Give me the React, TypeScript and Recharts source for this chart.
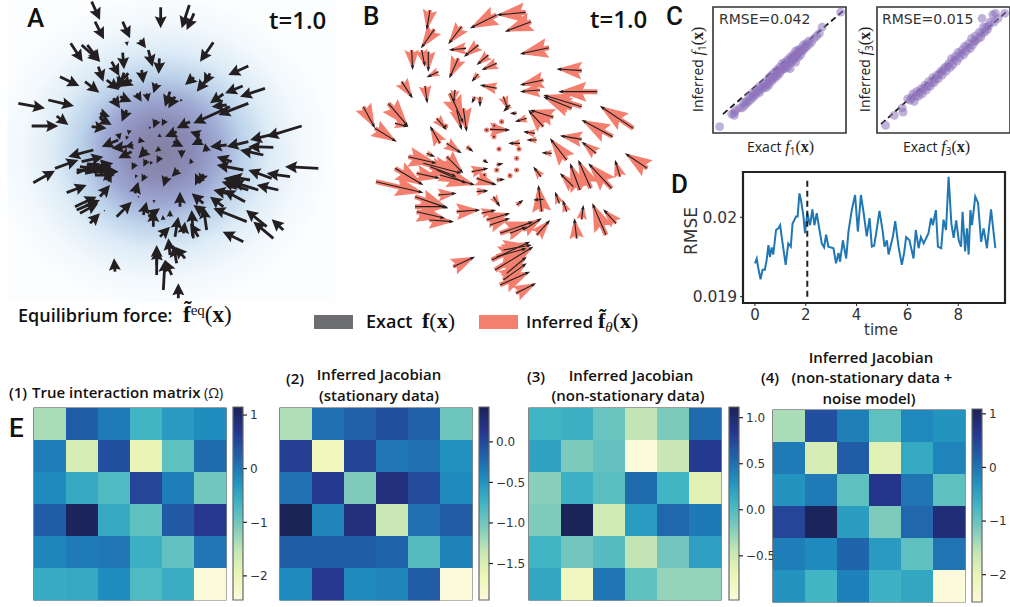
import React from 'react';
import { ScatterChart, Scatter, LineChart, Line, BarChart, Bar, XAxis, YAxis, ReferenceArea, ReferenceLine } from 'recharts';

// Force field A: tail x, tail y, tip x, tip y
const arrowsA: number[][] = [
  [275,5,300,60],[285,65,312,118],[368,65,390,115],[482,22,482,85],[568,15,545,85],[582,40,560,90],[640,127,600,185],
  [212,130,248,185],[245,135,300,185],[262,135,300,185],[380,125,382,138],[420,120,438,145],[445,150,458,200],[478,175,476,222],
  [745,198,685,225],[368,158,372,208],[335,185,358,228],[295,200,310,245],[180,230,238,258],[255,245,298,278],[320,240,358,270],
  [385,220,345,262],[372,218,355,268],[395,240,362,260],[425,210,430,250],[470,250,460,280],[582,232,555,255],[630,220,612,255],
  [622,235,590,275],[728,258,675,280],[795,265,720,290],[670,282,630,310],[745,310,655,345],[690,320,580,370],[55,310,135,325],
  [145,300,222,318],[95,378,175,378],[170,348,205,375],[340,295,360,325],[360,290,395,305],[410,280,425,305],[440,280,445,305],
  [510,275,495,320],[525,290,505,325],[545,298,540,305],[680,315,635,320],[380,330,365,365],[300,340,330,350],[300,355,335,375],
  [275,380,320,385],[905,378,800,410],[830,400,750,420],[745,425,680,440],[820,442,745,440],[790,465,720,450],[680,435,630,440],
  [955,505,855,500],[870,530,800,520],[815,535,745,510],[730,510,650,495],[695,485,650,470],[620,455,615,430],[600,405,570,395],
  [605,420,575,435],[570,365,530,385],[530,395,495,410],[520,425,550,440],[545,450,545,475],[480,445,465,455],[440,450,415,475],
  [355,420,305,440],[380,440,335,445],[400,435,375,440],[395,455,355,475],[280,450,205,470],[165,505,235,480],[100,548,165,512],
  [245,485,310,470],[230,520,300,490],[230,510,355,515],[250,505,340,490],[270,515,355,515],[325,545,335,525],[200,578,260,555],
  [300,590,330,555],[225,620,290,590],[230,630,300,600],[240,640,295,610],[270,670,300,640],[350,650,395,605],[405,580,415,545],
  [430,645,440,605],[460,680,460,630],[445,650,480,625],[490,660,488,645],[510,650,510,630],[480,710,510,680],[525,710,535,650],
  [550,700,555,665],[540,620,540,575],[580,715,575,630],[595,710,570,670],[620,690,610,620],[610,610,575,580],[615,640,580,615],
  [670,620,630,590],[700,585,640,570],[735,605,670,570],[740,665,640,625],[800,680,738,630],[850,690,815,658],[820,715,760,665],
  [730,725,668,695],[835,570,770,555],[775,570,695,545],[745,570,665,545],[750,540,690,530],[600,550,585,520],[610,522,600,550],
  [470,825,470,735],[510,765,505,715],[530,790,520,735],[555,775,525,740],[490,870,495,780],[515,825,495,780],[535,895,535,850],
  [345,815,342,775],[388,390,385,405],[355,400,360,420],[382,408,378,420],[470,360,460,385],[495,360,485,378],[450,380,448,388],
  [475,405,485,412],[440,480,430,500],[455,485,450,495],[480,470,470,490],[405,490,395,510],[410,525,405,535],[435,525,425,545],
  [500,530,490,560],[535,510,515,530],[575,490,570,475],[415,420,435,425],[462,600,462,610],[415,588,416,594],[313,630,314,635],
  [260,495,335,500],[255,520,330,505],[240,500,320,510],[285,525,345,525],[470,795,472,745],[720,545,670,535],[710,555,680,560],
];

// Force field B, black exact arrows, same reading
const arrowsB: number[][] = [
  [557,37,470,45],[470,45,390,85],[573,65,495,95],[627,143,540,162],[725,212,650,207],[270,30,260,90],[283,88,243,145],
  [365,80,325,132],[378,145,327,150],[415,135,372,170],[215,150,218,210],[245,150,255,200],[265,155,265,215],[295,215,260,232],
  [355,175,328,235],[445,165,410,195],[470,190,425,210],[415,222,395,245],[185,245,218,295],[255,258,262,310],[610,240,540,255],
  [600,270,540,275],[772,275,655,275],[725,320,610,285],[695,325,610,290],[640,352,570,330],[880,385,780,318],[818,410,725,360],
  [725,418,660,407],[768,460,725,425],[922,505,855,460],[840,530,825,480],[815,565,745,490],[752,565,715,480],[720,570,690,490],
  [680,480,630,415],[700,560,660,520],[635,460,605,458],[603,530,580,500],[605,635,595,555],[610,598,580,600],[658,610,645,575],
  [680,635,668,600],[725,658,730,615],[710,715,703,655],[798,705,757,610],[828,670,790,628],[70,320,105,385],[105,385,170,425],
  [145,310,205,380],[165,370,205,380],[300,430,270,378],[290,355,320,390],[320,430,365,460],[260,460,285,470],[205,470,290,490],
  [250,490,365,520],[165,505,250,555],[230,520,300,535],[290,510,380,550],[108,545,250,578],[295,585,350,580],[225,620,320,620],
  [320,470,370,520],[225,590,325,625],[230,635,315,655],[268,660,342,665],[350,635,420,630],[410,575,445,572],[395,515,445,505],
  [410,535,470,555],[470,540,495,538],[460,590,480,620],[425,640,468,630],[440,660,510,640],[450,675,510,655],[530,615,550,600],
  [480,700,580,665],[550,690,605,655],[590,705,630,660],[340,800,405,770],[455,780,570,725],[465,810,580,740],[500,820,560,770],
  [480,855,570,815],[528,880,588,850],[370,325,380,395],[330,280,370,370],[350,330,365,390],[450,388,510,390],[470,265,420,255],
  [405,290,395,310],[420,290,420,320],[490,290,505,330],[510,315,490,335],[530,340,510,340],[560,355,525,365],[610,380,565,330],
  [585,400,550,395],[590,420,560,420],[540,430,505,430],[380,440,400,455],[345,270,340,310],[430,480,445,490],[470,495,490,490],
  [300,525,405,555],[270,500,350,530],[490,750,575,735],[510,700,560,680],[470,770,560,745],[490,840,560,790],
];

const fixedPointsB: number[][] = [[317,378],[440,390],[463,377],[485,365],[462,410],[477,447],[537,447],[530,475],[510,527],[530,510],[433,525],[470,510]];

// C: exact vs inferred, as percent of each axis
const scatterF1: number[][] = [
  [5,5],[14,15],[16,14],[16,16],[17,18],[20,20],[96,96],[82,84],[80,79],[78,77],[76,75],[74,72],
  [22,20],[24,22],[26,24],[23,24],[28,26],[27,29],[30,28],[30,32],[32,30],[33,34],[35,32],[35,37],[37,35],[38,39],[40,36],[40,41],
  [42,38],[42,44],[44,41],[44,46],[46,43],[46,48],[48,45],[48,50],[50,47],[50,52],[52,50],[52,55],[54,51],[54,56],[56,52],[56,58],
  [58,55],[58,60],[60,57],[60,62],[58,51],[62,60],[62,65],[64,60],[64,66],[66,62],[62,56],[66,67],[68,66],[68,70],[70,68],[70,71],[72,70],[72,73],
  [25,25],[29,29],[31,31],[34,33],[36,36],[39,37],[41,39],[43,42],[45,44],[47,46],[49,48],[51,50],[53,52],[55,54],[57,56],[59,58],[61,60],[63,62],[65,65],[67,65],[69,68],[60,59],[62,62],[64,63],
];
const scatterF3: number[][] = [
  [6.5,6],[13,14],[19.6,16.5],[19,20],[23,27],[79,91],[87,94],[96,95],[91,91],[89,95],[88,88],[85,88],
  [25,26],[27,31],[28,25],[30,33],[31,29],[33,35],[34,31],[36,38],[37,34],[39,41],[40,37],[42,44],[43,40],[45,46],[46,43],[48,49],
  [49,46],[51,52],[52,49],[54,55],[55,52],[56,59],[57,54],[59,61],[60,57],[61,64],[62,60],[64,66],[65,62],[66,69],[67,65],[69,71],
  [70,67],[71,75],[72,70],[74,73],[74,77],[76,75],[77,80],[78,76],[80,84],[81,80],[83,82],[84,85],
  [26,28],[29,29],[32,32],[35,35],[38,37],[41,40],[44,43],[47,47],[50,50],[53,53],[58,58],[63,63],[68,68],[73,73],[79,79],[82,84],
];

// D: test error over time
const timeValues = [
  0,.07,.13,.22,.3,.39,.46,.53,.59,.66,.72,.83,.92,.99,1.08,1.21,1.31,1.41,1.48,1.62,1.68,1.75,1.81,1.91,1.97,2.06,2.17,2.26,2.34,2.43,2.52,2.63,2.72,2.8,2.89,
  3.09,3.19,3.29,3.35,3.46,3.59,3.68,3.81,3.94,4.05,4.17,4.27,4.4,4.51,4.6,4.69,4.8,4.9,5.02,5.1,5.19,5.26,5.43,5.52,5.65,5.78,5.87,5.95,6.08,6.24,6.33,6.44,6.53,6.64,
  6.83,6.93,7,7.12,7.2,7.33,7.42,7.52,7.62,7.73,7.82,7.92,8.02,8.11,8.17,8.27,8.34,8.41,8.48,8.54,8.67,8.78,8.9,9,9.13,9.29,9.46,
];
const rmseValues = [
  .01942,.01948,.01936,.01922,.01934,.01934,.01946,.01965,.0195,.01962,.01953,.01984,.01986,.0199,.01969,.0194,.01967,.01963,.01992,.02001,.02001,.0203,.02022,.02001,.0198,.02005,.0199,.0201,.0199,.02005,.01988,.01967,.01962,.01978,.01963,
  .01961,.01942,.01955,.01944,.01971,.01948,.01982,.02009,.02028,.01982,.02028,.02007,.01976,.01999,.01963,.01964,.01986,.02008,.01984,.01963,.01971,.01953,.01976,.01995,.01963,.0194,.01955,.01975,.01971,.01948,.01984,.01961,.01975,.01967,
  .0198,.01999,.0199,.02009,.01963,.01961,.01997,.01984,.02051,.01992,.01974,.01996,.01971,.01963,.02007,.01957,.01986,.01953,.02009,.0199,.02026,.02018,.01969,.01986,.01961,.0201,.01961,
];

// E: interaction matrices
const matrix1 = [
  [-1.37,.29,0,-.65,-.33,-.18],
  [-.04,-1.73,.43,-1.95,-.87,.14],
  [-.16,-.5,-.76,.54,-.04,-1],
  [.29,1.08,-.5,-.87,.32,.68],
  [-.11,0,.03,-.58,-.9,.03],
  [-.54,-.5,-.18,-.76,-.56,-2.45],
];
const matrix2 = [
  [-1.26,-.26,-.16,-.05,-.16,-.97],
  [.07,-1.71,.03,-.31,-.26,-.47],
  [-.28,.1,-1.06,.22,-.02,-.43],
  [.43,-.4,.22,-1.38,-.26,-.12],
  [-.14,-.14,-.14,-.19,-.86,-.38],
  [-.43,.12,-.43,-.4,-.14,-1.95],
];
const matrix3 = [
  [.07,.11,-.1,-.44,-.18,.53],
  [.19,-.18,-.08,-.98,-.46,.82],
  [-.23,.09,-.04,.53,.07,-.64],
  [-.19,1.1,-.52,.24,.55,.45],
  [.07,-.14,-.02,-.44,-.14,.21],
  [.17,-.79,.47,-.06,-.27,-.27],
];
const matrix4 = [
  [-1.43,.37,-.12,-.93,-.19,-.31],
  [-.06,-1.79,.23,-1.93,-.57,-.15],
  [-.31,-.06,-.93,.66,0,-.93],
  [.48,1.05,-.42,-1.16,.12,.84],
  [-.1,-.21,.15,-.39,-.93,0],
  [-.31,-.71,-.13,-.67,-.53,-2.51],
];
const ticks1 = [1,0,-1,-2];
const ticks2 = [0,-.5,-1,-1.5];
const ticks3 = [1,.5,0,-.5];
const ticks4 = [1,0,-1,-2];

const cmapStops = ['#fbfadb','#edf6b6','#c7e7b5','#7fcbbb','#41b5c4','#1f8fbf','#2060a9','#26368f','#1b2256'];

const hexToRgb = (h: string) => [1, 3, 5].map((i) => parseInt(h.slice(i, i + 2), 16));

const ylGnBu = (t: number) => {
  const p = Math.max(0, Math.min(1, t)) * (cmapStops.length - 1);
  const i = Math.min(Math.floor(p), cmapStops.length - 2);
  const a = hexToRgb(cmapStops[i]);
  const b = hexToRgb(cmapStops[i + 1]);
  return `rgb(${a.map((v, k) => Math.round(v + (b[k] - v) * (p - i))).join(',')})`;
};

const FONT = '"Open Sans", sans-serif';
const MPL = '"DejaVu Sans", sans-serif';
const SERIF = '"Liberation Serif", serif';
const DARK = '#231f20';
const SALMON = '#f47f6f';

const toArrows = (list: number[][]) => list.map(([x, y, x2, y2]) => ({ x, y, dx: x2 - x, dy: y2 - y }));

// quiver style polygon, starts at the tail (cx, cy)
const arrowShape = (fill: string, shaft: number, headLen: number, headW: number, k: number) => (props: any) => {
  const { cx, cy, payload } = props;
  const ux = payload.dx * k;
  const uy = payload.dy * k;
  const len = Math.hypot(ux, uy) || 1;
  const s = Math.min(1, len / headLen);
  const hl = headLen * s;
  const hw = (headW * s) / 2;
  const sw = (shaft * s) / 2;
  const notch = hl * 0.88;
  const pts = [
    [0, -sw], [len - notch, -sw], [len - hl, -hw], [len, 0], [len - hl, hw], [len - notch, sw], [0, sw],
  ];
  const c = ux / len;
  const n = uy / len;
  return <polygon points={pts.map(([a, b]) => `${cx + a * c - b * n},${cy + a * n + b * c}`).join(' ')} fill={fill} />;
};

const fixedDot = (props: any) => (
  <g>
    <circle cx={props.cx} cy={props.cy} r={2.6} fill={SALMON} />
    <circle cx={props.cx} cy={props.cy} r={0.9} fill={DARK} />
  </g>
);

const PanelA = () => (
  <div style={{ position: 'absolute', left: 0, top: 0 }}>
    <ScatterChart width={340} height={330} margin={{ top: 0, right: 0, bottom: 0, left: 0 }}>
      <defs>
        <radialGradient id="kde" cx="47%" cy="50%" r="52%">
          <stop offset="0%" stopColor="#84809f" />
          <stop offset="18%" stopColor="#8a8bb6" />
          <stop offset="34%" stopColor="#9ea9d3" />
          <stop offset="48%" stopColor="#bcd3ea" />
          <stop offset="64%" stopColor="#deecf7" />
          <stop offset="82%" stopColor="#f2f8fc" />
          <stop offset="100%" stopColor="#fbfdff" />
        </radialGradient>
      </defs>
      <XAxis type="number" dataKey="x" domain={[0, 1020]} hide />
      <YAxis type="number" dataKey="y" domain={[0, 990]} reversed hide />
      <ReferenceArea x1={22} x2={1005} y1={0} y2={905} fill="url(#kde)" fillOpacity={1} stroke="none" />
      <Scatter data={toArrows(arrowsA)} isAnimationActive={false} shape={arrowShape(DARK, 2.8, 12, 12, 1 / 3)} />
    </ScatterChart>
  </div>
);

const PanelB = () => (
  <div style={{ position: 'absolute', left: 340, top: 0 }}>
    <ScatterChart width={320} height={310} margin={{ top: 0, right: 0, bottom: 0, left: 0 }}>
      <XAxis type="number" dataKey="x" domain={[0, 960]} hide />
      <YAxis type="number" dataKey="y" domain={[0, 930]} reversed hide />
      <Scatter data={toArrows(arrowsB)} isAnimationActive={false} shape={arrowShape(SALMON, 5, 28, 20, 1 / 3)} />
      <Scatter data={fixedPointsB.map(([x, y]) => ({ x, y }))} isAnimationActive={false} shape={fixedDot} />
      <Scatter data={toArrows(arrowsB)} isAnimationActive={false} shape={arrowShape(DARK, 1.1, 5, 3.6, 1 / 3)} />
    </ScatterChart>
  </div>
);

const ParityPlot = ({ left, points, line }: { left: number; points: number[][]; line: number[] }) => (
  <div style={{ position: 'absolute', left, top: 5 }}>
    <ScatterChart width={137} height={130} margin={{ top: 2, right: 2, bottom: 2, left: 2 }}>
      <XAxis type="number" dataKey="x" domain={[0, 100]} hide />
      <YAxis type="number" dataKey="y" domain={[0, 100]} hide />
      <Scatter data={points.map(([x, y]) => ({ x, y }))} isAnimationActive={false} fill="#8e73bb"
        shape={(p: any) => <circle cx={p.cx} cy={p.cy} r={4.4} fill="#8e73bb" fillOpacity={0.55} />} />
      <ReferenceLine segment={[{ x: line[0], y: line[1] }, { x: line[2], y: line[3] }]} stroke="#1a1a1a" strokeWidth={1.8} strokeDasharray="6 3.5" />
      <ReferenceArea x1={0} x2={100} y1={0} y2={100} fill="none" stroke="#333" strokeWidth={1.6} />
    </ScatterChart>
  </div>
);

const lineData = timeValues.map((time, i) => ({ time, rmse: rmseValues[i] }));

const PanelD = () => (
  <div style={{ position: 'absolute', left: 683, top: 165 }}>
    <LineChart width={327} height={175} data={lineData} margin={{ top: 7, right: 5, bottom: 0, left: 0 }}>
      <XAxis type="number" dataKey="time" domain={[-0.47, 9.84]} ticks={[0, 2, 4, 6, 8]} height={37} axisLine={false}
        tick={{ fontFamily: MPL, fontSize: 15, fill: '#333' }} tickLine={{ stroke: '#222' }} tickSize={3} tickMargin={3} />
      <YAxis type="number" domain={[0.01892, 0.02057]} ticks={[0.019, 0.02]} width={60} axisLine={false} allowDataOverflow
        tick={{ fontFamily: MPL, fontSize: 15.5, fill: '#333' }} tickLine={{ stroke: '#222' }} tickSize={3} tickMargin={3} />
      <Line dataKey="rmse" stroke="#1f77b4" strokeWidth={2} dot={false} isAnimationActive={false} />
      <ReferenceLine segment={[{ x: 2.06, y: 0.019 }, { x: 2.06, y: 0.0205 }]} stroke={DARK} strokeWidth={2} strokeDasharray="6 4" />
      <ReferenceArea x1={-0.47} x2={9.84} y1={0.01892} y2={0.02057} fill="none" stroke="#222" strokeWidth={2.2} />
    </LineChart>
  </div>
);

const Heatmap = ({ left, top, matrix, range }: { left: number; top: number; matrix: number[][]; range: number[] }) => {
  const cells = matrix.flatMap((row, r) => row.map((value, c) => ({ x: c + 0.5, y: r + 0.5, value })));
  const size = 192 / 6;
  return (
    <div style={{ position: 'absolute', left, top }}>
      <ScatterChart width={194} height={194} margin={{ top: 1, right: 1, bottom: 1, left: 1 }}>
        <XAxis type="number" dataKey="x" domain={[0, 6]} hide />
        <YAxis type="number" dataKey="y" domain={[0, 6]} reversed hide />
        <Scatter data={cells} isAnimationActive={false}
          shape={(p: any) => (
            <rect x={p.cx - size / 2} y={p.cy - size / 2} width={size + 0.3} height={size + 0.3}
              fill={ylGnBu((p.payload.value - range[0]) / (range[1] - range[0]))} />
          )} />
        <ReferenceArea x1={0} x2={6} y1={0} y2={6} fill="none" stroke="#3c3c3c" strokeWidth={1.2} />
      </ScatterChart>
    </div>
  );
};

const Colorbar = ({ id, left, top, height, range, ticks, decimals }: { id: string; left: number; top: number; height: number; range: number[]; ticks: number[]; decimals: number }) => (
  <div style={{ position: 'absolute', left, top }}>
    <BarChart width={60} height={height + 2} data={[{ name: 'cb', span: range }]} barCategoryGap={0} margin={{ top: 1, right: 0, bottom: 1, left: 1 }}>
      <defs>
        <linearGradient id={id} x1="0" y1="1" x2="0" y2="0">
          {cmapStops.map((c, i) => <stop key={c} offset={`${(i * 100) / (cmapStops.length - 1)}%`} stopColor={c} />)}
        </linearGradient>
      </defs>
      <XAxis dataKey="name" hide />
      <YAxis orientation="right" type="number" domain={range} ticks={ticks} width={49} axisLine={false} interval={0}
        tickFormatter={(v: number) => v.toFixed(decimals).replace('-', '\u2212')}
        tick={{ fontFamily: MPL, fontSize: 12, fill: '#333', textAnchor: 'start' }} tickLine={{ stroke: '#222', strokeWidth: 1.2 }} tickSize={4} tickMargin={3} />
      <Bar dataKey="span" fill={`url(#${id})`} stroke="#666" strokeWidth={1.2} isAnimationActive={false} />
    </BarChart>
  </div>
);

const Txt = ({ x, y, size = 15, weight = 600, family = FONT, anchor, fill = '#111', rotate, children }: any) => (
  <text x={x} y={y} fontSize={size} fontWeight={weight} fontFamily={family} fill={fill} textAnchor={anchor}
    transform={rotate ? `rotate(${rotate} ${x} ${y})` : undefined}>{children}</text>
);

const Sub = ({ children, size = 10 }: any) => <tspan dy={3} fontSize={size}>{children}</tspan>;

const LETTER = 'Roboto, sans-serif';

// all lettering and math sits in one layer on top of the charts
const Annotations = () => (
  <svg width={1010} height={607} style={{ position: 'absolute', left: 0, top: 0, pointerEvents: 'none' }}>
    <Txt x={27} y={27} size={26} weight={500} family={LETTER}>A</Txt>
    <Txt x={363} y={25} size={26} weight={500} family={LETTER}>B</Txt>
    <Txt x={666} y={25} size={26} weight={500} family={LETTER}>C</Txt>
    <Txt x={671} y={193} size={26} weight={500} family={LETTER}>D</Txt>
    <Txt x={9} y={437} size={26} weight={500} family={LETTER}>E</Txt>
    <Txt x={269} y={29} size={24}>t=1.0</Txt>
    <Txt x={590} y={28} size={24}>t=1.0</Txt>

    <Txt x={18} y={322} size={18}>Equilibrium force:</Txt>
    <Txt x={183} y={322} size={23} weight={700} family={SERIF}>{'f\u0303'}<tspan dy={-7} fontSize={15} fontWeight={400}>eq</tspan><tspan dy={7} fontWeight={400}>(</tspan>x<tspan fontWeight={400}>)</tspan></Txt>

    <rect x={314} y={315} width={39} height={14} fill="#6d6e71" />
    <Txt x={366} y={328} size={18}>Exact</Txt>
    <Txt x={422} y={328} size={22} weight={700} family={SERIF}>f<tspan fontWeight={400}>(</tspan>x<tspan fontWeight={400}>)</tspan></Txt>
    <rect x={479} y={315} width={39} height={14} fill={SALMON} />
    <Txt x={526} y={328} size={17}>Inferred</Txt>
    <Txt x={598} y={328} size={22} weight={700} family={SERIF}>{'f\u0303'}<tspan dy={4} fontSize={15} fontStyle="italic" fontWeight={400}>θ</tspan><tspan dy={-4} fontWeight={400}>(</tspan>x<tspan fontWeight={400}>)</tspan></Txt>

    <Txt x={719} y={24} size={14} weight={400} family={MPL} fill="#333">RMSE=0.042</Txt>
    <Txt x={882} y={24} size={14} weight={400} family={MPL} fill="#333">RMSE=0.015</Txt>
    <Txt x={747} y={152} size={14} weight={400} fill="#222">Exact <tspan fontFamily={SERIF} fontSize={16} fontStyle="italic">f</tspan><Sub>1</Sub><tspan dy={-3} fontFamily={SERIF} fontSize={16}>(<tspan fontWeight={700}>x</tspan>)</tspan></Txt>
    <Txt x={903} y={152} size={14} weight={400} fill="#222">Exact <tspan fontFamily={SERIF} fontSize={16} fontStyle="italic">f</tspan><Sub>3</Sub><tspan dy={-3} fontFamily={SERIF} fontSize={16}>(<tspan fontWeight={700}>x</tspan>)</tspan></Txt>
    <Txt x={703} y={112} size={14} weight={400} fill="#222" rotate={-90}>Inferred <tspan fontFamily={SERIF} fontSize={16} fontStyle="italic">f</tspan><Sub>1</Sub><tspan dy={-3} fontFamily={SERIF} fontSize={16}>(<tspan fontWeight={700}>x</tspan>)</tspan></Txt>
    <Txt x={870} y={112} size={14} weight={400} fill="#222" rotate={-90}>Inferred <tspan fontFamily={SERIF} fontSize={16} fontStyle="italic">f</tspan><Sub>3</Sub><tspan dy={-3} fontFamily={SERIF} fontSize={16}>(<tspan fontWeight={700}>x</tspan>)</tspan></Txt>

    <Txt x={697} y={231} size={17} weight={400} family={MPL} fill="#333" anchor="middle" rotate={-90}>RMSE</Txt>
    <Txt x={881} y={335} size={15} weight={400} family={MPL} fill="#333" anchor="middle">time</Txt>

    <Txt x={9} y={398} size={15}>(1)</Txt>
    <Txt x={32} y={398} size={15}>True interaction matrix</Txt>
    <Txt x={204} y={398} size={14} weight={400}>(Ω)</Txt>
    <Txt x={286} y={384} size={15}>(2)</Txt>
    <Txt x={379} y={380} size={15} anchor="middle">Inferred Jacobian</Txt>
    <Txt x={379} y={401} size={15} anchor="middle">(stationary data)</Txt>
    <Txt x={527} y={382} size={15}>(3)</Txt>
    <Txt x={631} y={381} size={15} anchor="middle">Inferred Jacobian</Txt>
    <Txt x={628} y={401} size={15} anchor="middle">(non-stationary data)</Txt>
    <Txt x={761} y={383} size={15}>(4)</Txt>
    <Txt x={871} y={363} size={15} anchor="middle">Inferred Jacobian</Txt>
    <Txt x={872} y={383} size={15} anchor="middle">(non-stationary data +</Txt>
    <Txt x={869} y={404} size={15} anchor="middle">noise model)</Txt>
  </svg>
);

export default function App() {
  return (
    <div style={{ position: 'absolute', left: 0, top: 0, width: 1010, height: 607, background: '#fff', overflow: 'hidden' }}>
      <PanelA />
      <PanelB />
      <ParityPlot left={711} points={scatterF1} line={[7.5, 15, 99, 98]} />
      <ParityPlot left={875} points={scatterF3} line={[3, 7, 97, 96]} />
      <PanelD />
      <Heatmap left={33} top={407} matrix={matrix1} range={[-2.45, 1.15]} />
      <Colorbar id="cb1" left={232} top={406} height={193} range={[-2.45, 1.15]} ticks={ticks1} decimals={0} />
      <Heatmap left={279} top={407} matrix={matrix2} range={[-1.95, 0.43]} />
      <Colorbar id="cb2" left={478} top={406} height={193} range={[-1.95, 0.43]} ticks={ticks2} decimals={1} />
      <Heatmap left={528} top={407} matrix={matrix3} range={[-0.98, 1.116]} />
      <Colorbar id="cb3" left={728} top={406} height={193} range={[-0.98, 1.116]} ticks={ticks3} decimals={1} />
      <Heatmap left={772} top={409} matrix={matrix4} range={[-2.51, 1.09]} />
      <Colorbar id="cb4" left={971} top={408} height={193} range={[-2.51, 1.09]} ticks={ticks4} decimals={0} />
      <Annotations />
    </div>
  );
}
